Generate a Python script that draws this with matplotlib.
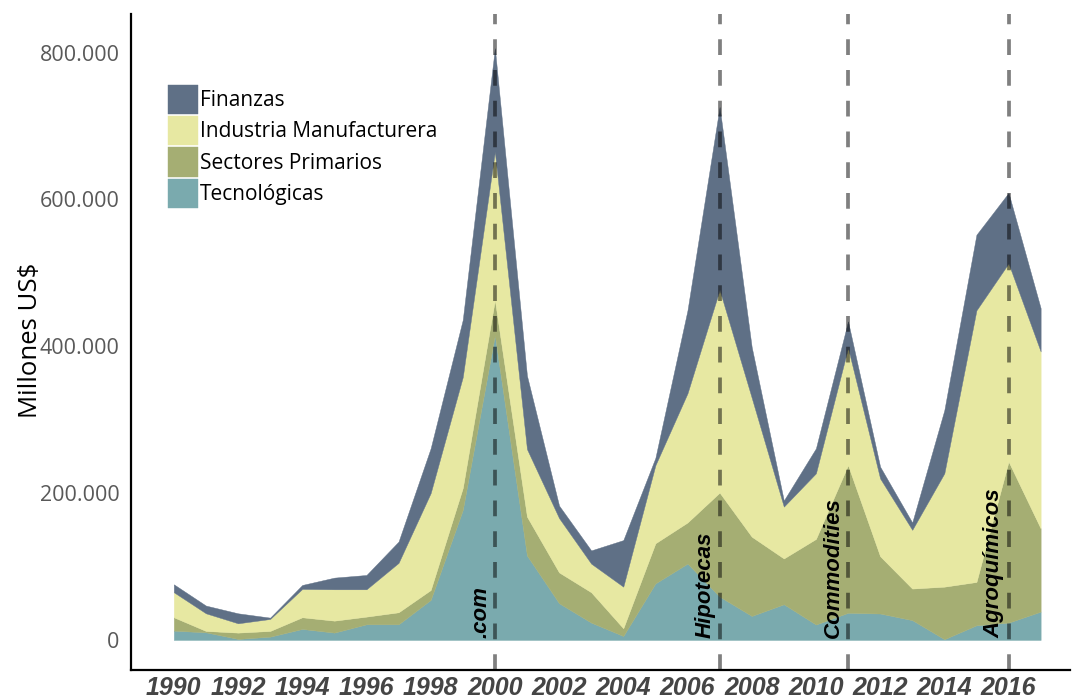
import matplotlib.pyplot as plt
from matplotlib.ticker import FuncFormatter

# datos (millones de US$)
years = list(range(1990, 2018))

tecnologicas = [12700, 10400, 1400, 4500, 15000, 10000, 21300, 21300, 54500, 177000,
                415000, 115000, 50000, 23600, 5400, 77000, 104000, 59000, 32700, 48600,
                21000, 37000, 36000, 27000, 1000, 20000, 23600, 38600]
primarios = [18200, 1900, 8600, 7800, 15900, 16300, 10500, 16400, 13500, 30000,
             48000, 53000, 42000, 41400, 10500, 54700, 56000, 141700, 108000, 62400,
             116600, 201000, 78000, 43000, 71600, 59000, 219400, 113400]
industria = [34100, 24000, 12700, 16300, 38600, 42700, 37200, 67300, 132000, 151000,
             202000, 92000, 74000, 39000, 56700, 106300, 176000, 276300, 189300, 70600,
             89400, 160000, 106000, 80000, 154400, 370000, 270000, 241000]
finanzas = [10800, 10500, 13600, 1800, 5400, 15900, 19500, 29000, 61000, 78000,
            141000, 100000, 17000, 18000, 63400, 10000, 113000, 249000, 69000, 8400,
            34000, 36000, 16000, 10000, 86000, 103000, 96000, 59000]

labels = ["Tecnológicas", "Sectores Primarios", "Industria Manufacturera", "Finanzas"]
colors = ["#7aaaae", "#a5ae73", "#e7e8a2", "#5f7086"]

crisis_years = [2000, 2007, 2011, 2016]
crisis_names = [".com", "Hipotecas", "Commodities", "Agroquímicos"]

fig = plt.figure(figsize=(10.72, 6.99), dpi=100)
ax = fig.add_axes([0.122, 0.0415, 0.876, 0.9385])

polys = ax.stackplot(years, tecnologicas, primarios, industria, finanzas,
                     colors=colors, labels=labels, linewidth=0.3)
for p, c in zip(polys, colors):
    p.set_edgecolor(c)

# lineas de crisis
for yr, name in zip(crisis_years, crisis_names):
    ax.axvline(yr, color="black", alpha=0.5, lw=2.7, dashes=(4.2, 4.0), zorder=3)
    ax.text(yr - 0.12, 2000, name, rotation=90, ha="right", va="bottom",
            fontsize=16, fontweight="bold", fontstyle="italic",
            family="Liberation Sans", color="black", zorder=4)

ax.set_xlim(1988.66, 2017.91)
ax.set_ylim(-40900, 852600)

ax.set_xticks(list(range(1990, 2017, 2)))
ax.set_yticks([0, 200000, 400000, 600000, 800000])
ax.yaxis.set_major_formatter(FuncFormatter(lambda v, p: f"{int(v):,}".replace(",", ".")))
ax.tick_params(length=0)
ax.tick_params(axis="y", pad=8, labelsize=15.5, labelcolor="#595959")
ax.tick_params(axis="x", pad=4, labelsize=18, labelcolor="#454545")
for lab in ax.get_yticklabels():
    lab.set_family("Open Sans")
for lab in ax.get_xticklabels():
    lab.set_family("Liberation Sans")
    lab.set_fontweight("bold")
    lab.set_fontstyle("italic")

ax.set_ylabel("Millones US$", fontsize=18.5, family="Open Sans")
ax.yaxis.set_label_coords(-0.094, 0.503)

for s in ["top", "right"]:
    ax.spines[s].set_visible(False)
ax.spines["left"].set_linewidth(1.6)
ax.spines["bottom"].set_linewidth(1.6)

handles, labs = ax.get_legend_handles_labels()
leg = ax.legend(handles[::-1], labs[::-1], loc="upper left", bbox_to_anchor=(0.04, 0.892),
                frameon=False, prop={"family": "Open Sans", "size": 15},
                handlelength=1.4, handleheight=1.78, labelspacing=0.1, handletextpad=0.1,
                borderpad=0, borderaxespad=0)

fig.savefig("out.png", dpi=100)
